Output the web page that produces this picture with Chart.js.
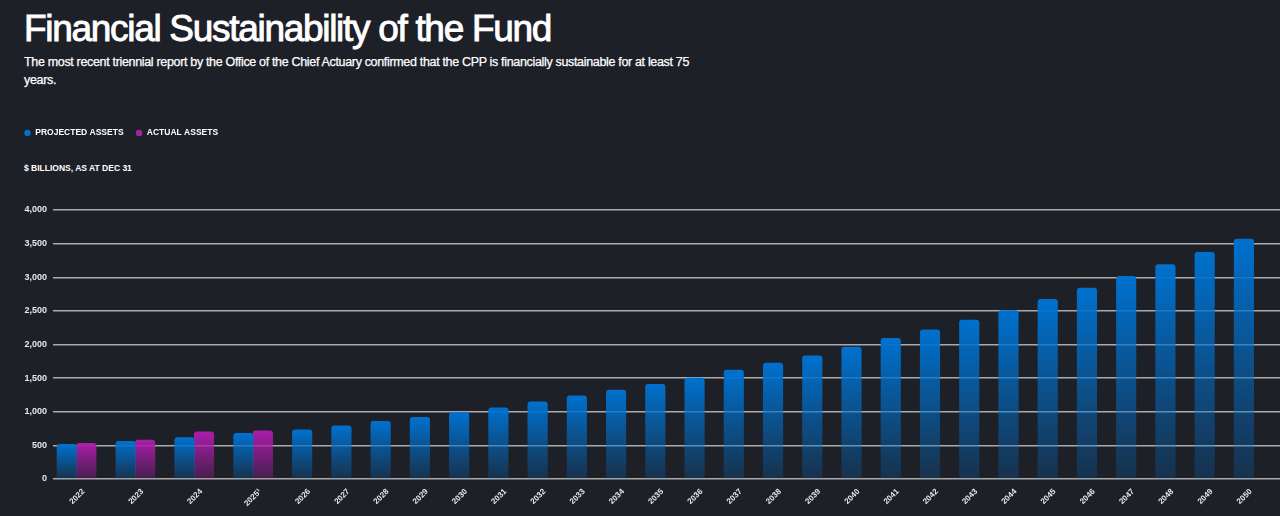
<!DOCTYPE html>
<html>
<head>
<meta charset="utf-8">
<script src="https://cdn.jsdelivr.net/npm/chart.js@4.4.1/dist/chart.umd.min.js"></script>
<style>
  html, body { margin: 0; padding: 0; background: #1e2028; }
  body { width: 1280px; height: 516px; overflow: hidden; position: relative; font-family: "Liberation Sans", Arial, sans-serif; color: #fff; }
  #title { position: absolute; left: 24px; top: 10px; font-size: 37px; line-height: 37px; letter-spacing: -1.3px; white-space: nowrap; -webkit-text-stroke: 0.9px #fff; }
  #sub { position: absolute; left: 24px; top: 53px; width: 690px; font-size: 12.5px; line-height: 18px; letter-spacing: -0.33px; -webkit-text-stroke: 0.25px #fff; }
  #units { position: absolute; left: 24px; top: 162px; font-size: 8.5px; line-height: 12px; font-weight: bold; white-space: nowrap; }
  #wrap { position: absolute; left: 0; top: 0; width: 1280px; height: 516px; }
</style>
</head>
<body>
<div id="title">Financial Sustainability of the Fund</div>
<div id="sub">The most recent triennial report by the Office of the Chief Actuary confirmed that the CPP is financially sustainable for at least 75 years.</div>
<div id="units">$ BILLIONS, AS AT DEC 31</div>
<div id="wrap"><canvas id="c"></canvas></div>
<script>
const categories = ['2022','2023','2024','2025\u00b9','2026','2027','2028','2029','2030','2031','2032','2033','2034','2035','2036','2037','2038','2039','2040','2041','2042','2043','2044','2045','2046','2047','2048','2049','2050'];
const projectedAssets = [515,560,615,678,733,790,858,918,987,1057,1147,1238,1322,1406,1500,1619,1723,1832,1961,2090,2218,2362,2506,2670,2840,3013,3187,3370,3568];
const actualAssets = [530,580,703,718,null,null,null,null,null,null,null,null,null,null,null,null,null,null,null,null,null,null,null,null,null,null,null,null,null];
const yTicks = [0,500,1000,1500,2000,2500,3000,3500,4000];

// category slot widths: categories holding two bars get a wider slot
const slotWidths = categories.map((_, i) => 0.5 + 0.5 * [projectedAssets[i], actualAssets[i]].filter(v => v != null).length);
const positions = [];
slotWidths.reduce((acc, w) => { positions.push(acc + w / 2); return acc + w; }, 0);

function toPoints(arr) { return arr.map((v, i) => ({ x: positions[i], y: v })); }

function gradientFill(rgb, bottomAlpha) {
  return (ctx) => {
    const chart = ctx.chart;
    if (!chart.chartArea || !ctx.raw || ctx.raw.y == null) return 'rgba(' + rgb + ',1)';
    const ys = chart.scales.y;
    const top = ys.getPixelForValue(ctx.raw.y);
    const bot = ys.getPixelForValue(0);
    if (!isFinite(top) || !isFinite(bot) || bot - top < 1) return 'rgba(' + rgb + ',1)';
    const g = chart.ctx.createLinearGradient(0, top, 0, bot);
    g.addColorStop(0, 'rgba(' + rgb + ',1)');
    g.addColorStop(1, 'rgba(' + rgb + ',' + bottomAlpha + ')');
    return g;
  };
}

const legendGap = {
  id: 'legendGap',
  beforeInit(chart) {
    const lg = chart.legend;
    if (!lg) return;
    const orig = lg.fit;
    lg.fit = function () { orig.call(this); this.height += 62.75; };
  }
};

const font = 'Liberation Sans';
new Chart(document.getElementById('c'), {
  type: 'bar',
  data: {
    datasets: [
      { label: 'PROJECTED ASSETS', data: toPoints(projectedAssets), backgroundColor: gradientFill('0,113,206', 0.22), borderRadius: { topLeft: 3, topRight: 3 }, borderSkipped: 'start', borderWidth: 0 },
      { label: 'ACTUAL ASSETS', data: toPoints(actualAssets), backgroundColor: gradientFill('170,30,170', 0.28), borderRadius: { topLeft: 3, topRight: 3 }, borderSkipped: 'start', borderWidth: 0 }
    ]
  },
  options: {
    responsive: true,
    maintainAspectRatio: false,
    animation: false,
    skipNull: true,
    barThickness: 19.5,
    layout: { padding: { top: 116.75, left: 12, right: 0, bottom: 0 } },
    plugins: {
      legend: {
        position: 'top',
        align: 'start',
        labels: { color: '#ffffff', usePointStyle: true, pointStyle: 'circle', boxWidth: 7, boxHeight: 4.5, padding: 12, font: { family: font, size: 8.5, weight: 'bold' } }
      },
      tooltip: { enabled: false }
    },
    scales: {
      x: {
        type: 'linear',
        offset: false,
        min: positions[0] - 0.6,
        max: positions[positions.length - 1] + 0.92,
        grid: { display: false },
        border: { display: false },
        afterBuildTicks: (s) => { s.ticks = positions.map(v => ({ value: v })); },
        afterFit: (s) => { s.height = 37; },
        ticks: {
          autoSkip: false, maxRotation: 45, minRotation: 45, labelOffset: 7, padding: 0,
          color: '#e8e8e8', font: { family: font, size: 8, weight: 'bold' },
          callback: (v, i) => categories[i]
        }
      },
      y: {
        min: 0, max: 4000,
        afterBuildTicks: (s) => { s.ticks = yTicks.map(v => ({ value: v })); },
        afterFit: (s) => { s.width = 41; },
        grid: { color: 'rgba(195,195,195,0.85)', lineWidth: 1.5, drawTicks: false },
        border: { display: false },
        ticks: { padding: 6, color: '#e8e8e8', font: { family: font, size: 9, weight: 'bold' }, callback: (v) => v.toLocaleString('en-US') }
      }
    }
  },
  plugins: [legendGap]
});
</script>
</body>
</html>
